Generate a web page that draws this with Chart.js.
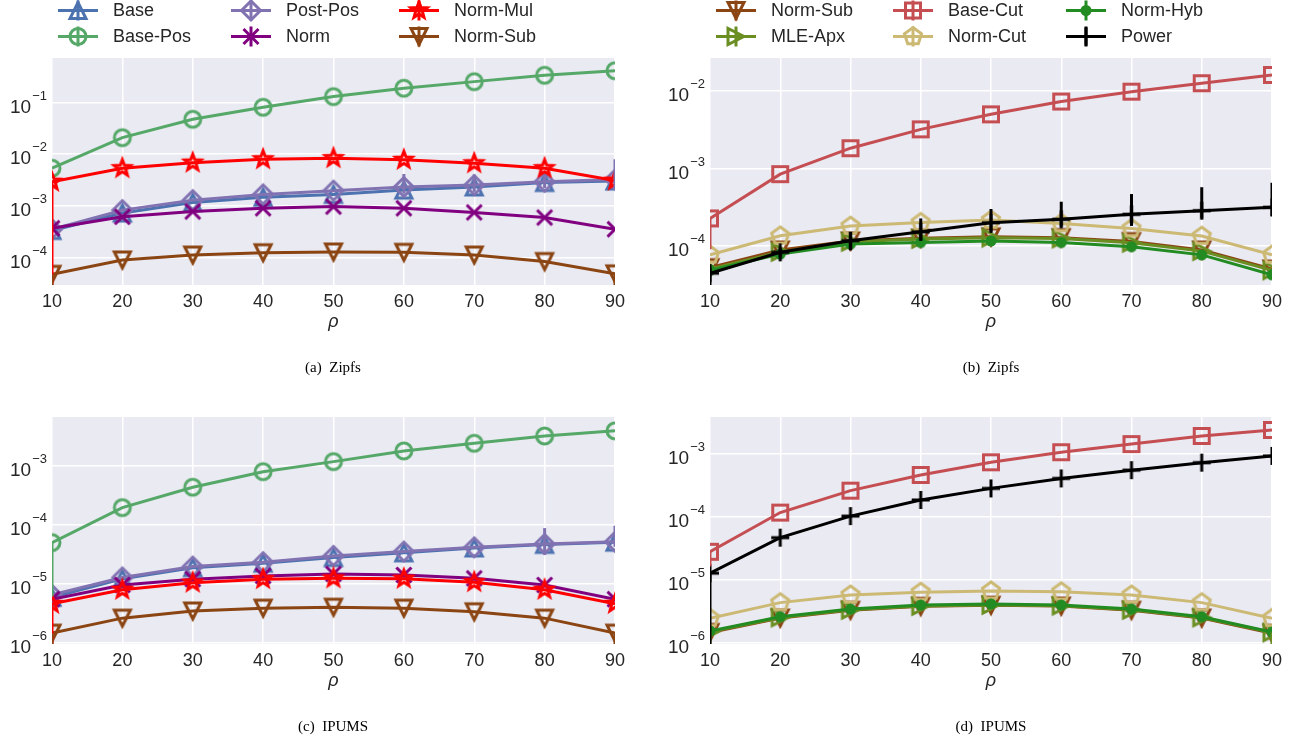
<!DOCTYPE html>
<html><head><meta charset="utf-8">
<script src="https://cdn.jsdelivr.net/npm/chart.js@4/dist/chart.umd.min.js"></script>
<style>
html,body{margin:0;padding:0;background:#fff}
body{width:1297px;height:744px;position:relative;overflow:hidden}
canvas{position:absolute}
.cap{position:absolute;font-family:"Liberation Serif","Times New Roman",serif;font-size:15px;color:#000;text-align:center;width:300px;white-space:pre;line-height:18px}
</style></head><body>
<canvas id="ca" width="648" height="345" style="left:0;top:0"></canvas>
<canvas id="cb" width="649" height="345" style="left:648px;top:0"></canvas>
<canvas id="cc" width="648" height="384" style="left:0;top:360px"></canvas>
<canvas id="cd" width="649" height="384" style="left:648px;top:360px"></canvas>
<div class="cap" style="left:183px;top:358px">(a)  Zipfs</div>
<div class="cap" style="left:841px;top:358px">(b)  Zipfs</div>
<div class="cap" style="left:183px;top:717px">(c)  IPUMS</div>
<div class="cap" style="left:841px;top:717px">(d)  IPUMS</div>
<script>
// ---------------- data ----------------
const rho = [10, 20, 30, 40, 50, 60, 70, 80, 90];
const xTicks = [10, 20, 30, 40, 50, 60, 70, 80, 90];

// (a) Zipfs
const aBase    = [3.3e-4, 7.2e-4, 1.15e-3, 1.45e-3, 1.65e-3, 2.0e-3, 2.3e-3, 2.8e-3, 3.0e-3];
const aBasePos = [5.3e-3, 2.07e-2, 4.69e-2, 8.0e-2, 0.129, 0.187, 0.251, 0.333, 0.408];
const aPostPos = [3.5e-4, 8.2e-4, 1.28e-3, 1.65e-3, 1.95e-3, 2.3e-3, 2.5e-3, 2.9e-3, 3.2e-3];
const aNorm    = [3.65e-4, 6.1e-4, 7.7e-4, 8.9e-4, 9.6e-4, 8.9e-4, 7.4e-4, 5.9e-4, 3.5e-4];
const aNormMul = [2.9e-3, 5.3e-3, 6.8e-3, 7.9e-3, 8.3e-3, 7.7e-3, 6.6e-3, 5.3e-3, 3.05e-3];
const aNormSub = [4.7e-5, 8.9e-5, 1.11e-4, 1.23e-4, 1.27e-4, 1.25e-4, 1.11e-4, 8.3e-5, 4.8e-5];
const aPostPosHi = [null, null, null, null, null, 4.1e-3, 4.0e-3, 3.9e-3, 7.9e-3];
const aPostPosLo = [null, null, null, null, null, 1.7e-3, 1.85e-3, 2.2e-3, 2.0e-3];
const aNormMulLo = [1e-9, null, null, null, null, null, null, null, null];
const aNormSubLo = [1e-9, null, null, null, null, null, null, null, 1e-9];
const aYRange = [2.92e-5, 0.719];
const aDecades = [-4, -3, -2, -1];

// (b) Zipfs
const bNormSub = [5.2e-5, 8.8e-5, 1.15e-4, 1.25e-4, 1.30e-4, 1.27e-4, 1.13e-4, 8.8e-5, 5.0e-5];
const bMleApx  = [5.0e-5, 8.3e-5, 1.12e-4, 1.22e-4, 1.27e-4, 1.24e-4, 1.09e-4, 8.5e-5, 4.8e-5];
const bBaseCut = [2.25e-4, 8.4e-4, 1.82e-3, 3.19e-3, 4.99e-3, 7.3e-3, 9.8e-3, 1.26e-2, 1.61e-2];
const bNormCut = [7.6e-5, 1.34e-4, 1.79e-4, 2.0e-4, 2.14e-4, 1.94e-4, 1.67e-4, 1.33e-4, 7.6e-5];
const bNormHyb = [4.8e-5, 7.8e-5, 1.05e-4, 1.10e-4, 1.15e-4, 1.10e-4, 9.7e-5, 7.6e-5, 4.2e-5];
const bPower   = [4.4e-5, 8.2e-5, 1.16e-4, 1.51e-4, 1.98e-4, 2.19e-4, 2.54e-4, 2.83e-4, 3.13e-4];
const bPowerHi = [5.2e-5, 9.5e-5, 1.5e-4, 2.25e-4, 2.98e-4, 3.7e-4, 4.65e-4, 5.7e-4, 6.5e-4];
const bPowerLo = [1e-9, 7.0e-5, 8.7e-5, 1.17e-4, 1.46e-4, 1.76e-4, 1.8e-4, 2.25e-4, 2.4e-4];
const bBaseCutLo = [9e-5, null, null, null, null, null, null, null, null];
const bYRange = [3.1e-5, 2.67e-2];
const bDecades = [-4, -3, -2];

// (c) IPUMS
const cBase    = [5.8e-6, 1.2e-5, 1.85e-5, 2.2e-5, 2.75e-5, 3.3e-5, 4.0e-5, 4.6e-5, 5.0e-5];
const cBasePos = [4.93e-5, 1.94e-4, 4.3e-4, 7.9e-4, 1.17e-3, 1.78e-3, 2.4e-3, 3.19e-3, 3.9e-3];
const cPostPos = [6.4e-6, 1.26e-5, 1.93e-5, 2.29e-5, 2.93e-5, 3.47e-5, 4.1e-5, 4.67e-5, 5.1e-5];
const cNorm    = [5.4e-6, 9.4e-6, 1.18e-5, 1.34e-5, 1.45e-5, 1.39e-5, 1.22e-5, 9.4e-6, 5.4e-6];
const cNormMul = [4.5e-6, 7.8e-6, 1.03e-5, 1.18e-5, 1.22e-5, 1.2e-5, 1.05e-5, 7.8e-6, 4.5e-6];
const cNormSub = [1.43e-6, 2.57e-6, 3.4e-6, 3.8e-6, 3.94e-6, 3.8e-6, 3.3e-6, 2.57e-6, 1.43e-6];
const cBasePosLo = [6e-6, null, null, null, null, null, null, null, null];
const cPostPosHi = [null, null, null, null, null, null, null, 8.7e-5, 9.5e-5];
const cPostPosLo = [null, null, null, null, null, null, null, 3.05e-5, 4.2e-5];
const cNormMulLo = [1e-9, null, null, null, null, null, null, null, null];
const cNormSubLo = [1e-9, null, null, null, null, null, null, null, 1e-9];
const cYRange = [9.35e-7, 6.7e-3];
const cDecades = [-6, -5, -4, -3];

// (d) IPUMS
const dNormSub = [1.45e-6, 2.45e-6, 3.25e-6, 3.75e-6, 3.9e-6, 3.8e-6, 3.25e-6, 2.45e-6, 1.4e-6];
const dMleApx  = [1.48e-6, 2.5e-6, 3.3e-6, 3.8e-6, 3.95e-6, 3.85e-6, 3.3e-6, 2.5e-6, 1.45e-6];
const dBaseCut = [2.75e-5, 1.15e-4, 2.56e-4, 4.53e-4, 7.2e-4, 1.04e-3, 1.4e-3, 1.88e-3, 2.34e-3];
const dNormCut = [2.43e-6, 4.3e-6, 5.7e-6, 6.3e-6, 6.6e-6, 6.4e-6, 5.7e-6, 4.3e-6, 2.43e-6];
const dNormHyb = [1.53e-6, 2.57e-6, 3.4e-6, 3.94e-6, 4.1e-6, 3.94e-6, 3.4e-6, 2.57e-6, 1.47e-6];
const dPower   = [1.26e-5, 4.6e-5, 1.01e-4, 1.82e-4, 2.78e-4, 4.0e-4, 5.4e-4, 7.1e-4, 9.1e-4];
const dPowerLo = [1e-9, null, null, null, null, null, null, null, null];
const dBaseCutLo = [1.6e-5, null, null, null, null, null, null, null, null];
const dMleApxLo = [1e-9, null, null, null, null, null, null, null, 1e-9];
const dYRange = [9.5e-7, 3.76e-3];
const dDecades = [-6, -5, -4, -3];

// ---------------- styling ----------------
const FONT = '"Liberation Sans", Arial, Helvetica, sans-serif';
const TXT = '#262626';
const LW = 3;
const C = {
  base: '#4C72B0', basePos: '#55A868', postPos: '#8172B2', norm: '#800080',
  normMul: '#FF0000', normSub: '#8B4513', baseCut: '#C44E52', normCut: '#CCB974',
  mleApx: '#6B8E23', normHyb: '#228B22', power: '#000000'
};

function markerPath(g, t, x, y) {
  g.beginPath();
  if (t === 'o') { g.arc(x, y, 8, 0, Math.PI * 2); }
  else if (t === '.') { g.arc(x, y, 5.5, 0, Math.PI * 2); }
  else if (t === '^') { const r = 8; g.moveTo(x, y - r); g.lineTo(x + r, y + r); g.lineTo(x - r, y + r); g.closePath(); }
  else if (t === 'v') { const r = 8; g.moveTo(x, y + r); g.lineTo(x + r, y - r); g.lineTo(x - r, y - r); g.closePath(); }
  else if (t === '>') { const r = 8; g.moveTo(x + r, y); g.lineTo(x - r, y + r); g.lineTo(x - r, y - r); g.closePath(); }
  else if (t === 'D') { const r = 9.5; g.moveTo(x, y - r); g.lineTo(x + r, y); g.lineTo(x, y + r); g.lineTo(x - r, y); g.closePath(); }
  else if (t === 's') { const r = 7.5; g.rect(x - r, y - r, 2 * r, 2 * r); }
  else if (t === 'p') { const r = 9; for (let k = 0; k < 5; k++) { const a = -Math.PI / 2 + k * 2 * Math.PI / 5; const px = x + r * Math.cos(a), py = y + r * Math.sin(a); if (k === 0) g.moveTo(px, py); else g.lineTo(px, py); } g.closePath(); }
  else if (t === '*') { const ro = 8.5, ri = 3.6; for (let k = 0; k < 10; k++) { const a = -Math.PI / 2 + k * Math.PI / 5; const r = k % 2 ? ri : ro; const px = x + r * Math.cos(a), py = y + r * Math.sin(a); if (k === 0) g.moveTo(px, py); else g.lineTo(px, py); } g.closePath(); }
  else if (t === 'x') { const r = 7.5; g.moveTo(x - r, y - r); g.lineTo(x + r, y + r); g.moveTo(x - r, y + r); g.lineTo(x + r, y - r); }
  else if (t === '+') { const r = 9; g.moveTo(x - r, y); g.lineTo(x + r, y); g.moveTo(x, y - r); g.lineTo(x, y + r); }
}
function drawMarker(g, t, color, x, y) {
  g.save();
  g.lineWidth = 3; g.strokeStyle = color; g.fillStyle = color; g.lineJoin = 'miter'; g.lineCap = 'butt';
  markerPath(g, t, x, y);
  if (t === '.') g.fill(); else g.stroke();
  g.restore();
}
function markerImage(t, color) {
  const c = document.createElement('canvas'); c.width = 32; c.height = 32;
  drawMarker(c.getContext('2d'), t, color, 16, 16);
  return c;
}

const bgPlugin = {
  id: 'bg',
  beforeDraw(chart) {
    const { ctx, chartArea: a } = chart;
    ctx.save(); ctx.fillStyle = '#EAEAF2';
    ctx.fillRect(a.left, a.top, a.right - a.left, a.bottom - a.top);
    ctx.restore();
  }
};
const errPlugin = {
  id: 'err',
  afterDatasetsDraw(chart) {
    const { ctx, chartArea: a } = chart;
    const xs = chart.scales.x, ys = chart.scales.y;
    ctx.save();
    ctx.beginPath(); ctx.rect(a.left, a.top, a.right - a.left, a.bottom - a.top); ctx.clip();
    chart.data.datasets.forEach(ds => {
      if (!ds.errHi && !ds.errLo) return;
      ctx.strokeStyle = ds.borderColor; ctx.lineWidth = LW;
      ds.data.forEach((p, i) => {
        const hi = ds.errHi ? ds.errHi[i] : null;
        const lo = ds.errLo ? ds.errLo[i] : null;
        if (hi == null && lo == null) return;
        const x = xs.getPixelForValue(p.x);
        const y0 = ys.getPixelForValue(hi == null ? p.y : hi);
        let y1 = ys.getPixelForValue(lo == null ? p.y : lo);
        if (!isFinite(y1) || y1 > a.bottom + 10) y1 = a.bottom + 10;
        ctx.beginPath(); ctx.moveTo(x, y0); ctx.lineTo(x, y1); ctx.stroke();
      });
    });
    ctx.restore();
  }
};
const yLabelPlugin = {
  id: 'ylab',
  afterDraw(chart) {
    const s = chart.scales.y, ctx = chart.ctx;
    const right = chart.chartArea.left - 5;
    ctx.save(); ctx.fillStyle = TXT; ctx.textAlign = 'left'; ctx.textBaseline = 'alphabetic';
    s.ticks.forEach(t => {
      const e = Math.round(Math.log10(t.value));
      const y = s.getPixelForValue(t.value);
      const exp = (e < 0 ? '\u2212' : '') + Math.abs(e);
      ctx.font = '13px ' + FONT; const ew = ctx.measureText(exp).width;
      ctx.font = '19px ' + FONT; const bw = ctx.measureText('10').width;
      ctx.fillText('10', right - ew - bw - 1, y + 10.5);
      ctx.font = '13px ' + FONT; ctx.fillText(exp, right - ew, y - 2.5);
    });
    ctx.restore();
  }
};
function legendPlugin(items, cols, rows) {
  return {
    id: 'mleg',
    afterDraw(chart) {
      const ctx = chart.ctx;
      ctx.save();
      items.forEach(it => {
        const x0 = cols[it.col], y = rows[it.row];
        ctx.strokeStyle = it.color; ctx.lineWidth = LW;
        ctx.beginPath(); ctx.moveTo(x0, y); ctx.lineTo(x0 + 40, y); ctx.stroke();
        ctx.beginPath(); ctx.moveTo(x0 + 20, y - 10); ctx.lineTo(x0 + 20, y + 10); ctx.stroke();
        drawMarker(ctx, it.marker, it.color, x0 + 20, y);
        ctx.fillStyle = TXT; ctx.font = '18px ' + FONT; ctx.textBaseline = 'middle'; ctx.textAlign = 'left';
        ctx.fillText(it.label, x0 + 55, y + 1);
      });
      ctx.restore();
    }
  };
}

function makePanel(id, series, yRange, decades, geom, legend) {
  const datasets = series.map((s, idx) => ({
    label: s.label,
    data: rho.map((x, i) => ({ x: x, y: s.values[i] })),
    borderColor: s.color, backgroundColor: s.color,
    borderWidth: LW, tension: 0, fill: false,
    pointStyle: markerImage(s.marker, s.color), pointRadius: 8,
    order: -idx, errHi: s.errHi || null, errLo: s.errLo || null
  }));
  const plugins = [bgPlugin, errPlugin, yLabelPlugin];
  if (legend) plugins.push(legendPlugin(legend.items, legend.cols, legend.rows));
  new Chart(document.getElementById(id), {
    type: 'line',
    data: { datasets },
    options: {
      responsive: false, animation: false, devicePixelRatio: 1, events: [],
      layout: { padding: { left: 0, right: geom.pr, top: geom.pt, bottom: geom.pb } },
      plugins: { legend: { display: false }, tooltip: { enabled: false } },
      scales: {
        x: {
          type: 'linear', min: rho[0], max: rho[rho.length - 1],
          afterBuildTicks: sc => { sc.ticks = xTicks.map(v => ({ value: v })); },
          ticks: { font: { family: FONT, size: 18 }, color: TXT, padding: 6, maxRotation: 0, autoSkip: false },
          grid: { color: '#FFFFFF', lineWidth: 1.5, drawTicks: false },
          border: { display: false },
          title: { display: true, text: 'ρ', font: { family: FONT, size: 18, style: 'italic' }, color: TXT, padding: 0 },
          afterFit: sc => { sc.height = 48; }
        },
        y: {
          type: 'logarithmic', min: yRange[0], max: yRange[1],
          afterBuildTicks: sc => { sc.ticks = decades.map(e => ({ value: Math.pow(10, e) })); },
          ticks: { display: false },
          grid: { color: '#FFFFFF', lineWidth: 1.5, drawTicks: false },
          border: { display: false },
          afterFit: sc => { sc.width = geom.yw; }
        }
      }
    },
    plugins
  });
}

const legendA = {
  cols: [58, 231, 399], rows: [10.5, 36.5],
  items: [
    { label: 'Base', color: C.base, marker: '^', col: 0, row: 0 },
    { label: 'Base-Pos', color: C.basePos, marker: 'o', col: 0, row: 1 },
    { label: 'Post-Pos', color: C.postPos, marker: 'D', col: 1, row: 0 },
    { label: 'Norm', color: C.norm, marker: 'x', col: 1, row: 1 },
    { label: 'Norm-Mul', color: C.normMul, marker: '*', col: 2, row: 0 },
    { label: 'Norm-Sub', color: C.normSub, marker: 'v', col: 2, row: 1 }
  ]
};
const legendB = {
  cols: [68, 245, 418], rows: [10.5, 36.5],
  items: [
    { label: 'Norm-Sub', color: C.normSub, marker: 'v', col: 0, row: 0 },
    { label: 'MLE-Apx', color: C.mleApx, marker: '>', col: 0, row: 1 },
    { label: 'Base-Cut', color: C.baseCut, marker: 's', col: 1, row: 0 },
    { label: 'Norm-Cut', color: C.normCut, marker: 'p', col: 1, row: 1 },
    { label: 'Norm-Hyb', color: C.normHyb, marker: '.', col: 2, row: 0 },
    { label: 'Power', color: C.power, marker: '+', col: 2, row: 1 }
  ]
};

makePanel('ca', [
  { label: 'Base', values: aBase, color: C.base, marker: '^' },
  { label: 'Base-Pos', values: aBasePos, color: C.basePos, marker: 'o' },
  { label: 'Post-Pos', values: aPostPos, color: C.postPos, marker: 'D', errHi: aPostPosHi, errLo: aPostPosLo },
  { label: 'Norm', values: aNorm, color: C.norm, marker: 'x' },
  { label: 'Norm-Mul', values: aNormMul, color: C.normMul, marker: '*', errLo: aNormMulLo },
  { label: 'Norm-Sub', values: aNormSub, color: C.normSub, marker: 'v', errLo: aNormSubLo }
], aYRange, aDecades, { yw: 52, pr: 33, pt: 58, pb: 12 }, legendA);

makePanel('cb', [
  { label: 'Norm-Sub', values: bNormSub, color: C.normSub, marker: 'v' },
  { label: 'MLE-Apx', values: bMleApx, color: C.mleApx, marker: '>' },
  { label: 'Base-Cut', values: bBaseCut, color: C.baseCut, marker: 's', errLo: bBaseCutLo },
  { label: 'Norm-Cut', values: bNormCut, color: C.normCut, marker: 'p' },
  { label: 'Norm-Hyb', values: bNormHyb, color: C.normHyb, marker: '.' },
  { label: 'Power', values: bPower, color: C.power, marker: '+', errHi: bPowerHi, errLo: bPowerLo }
], bYRange, bDecades, { yw: 62, pr: 25, pt: 58, pb: 12 }, legendB);

makePanel('cc', [
  { label: 'Base', values: cBase, color: C.base, marker: '^' },
  { label: 'Base-Pos', values: cBasePos, color: C.basePos, marker: 'o', errLo: cBasePosLo },
  { label: 'Post-Pos', values: cPostPos, color: C.postPos, marker: 'D', errHi: cPostPosHi, errLo: cPostPosLo },
  { label: 'Norm', values: cNorm, color: C.norm, marker: 'x' },
  { label: 'Norm-Mul', values: cNormMul, color: C.normMul, marker: '*', errLo: cNormMulLo },
  { label: 'Norm-Sub', values: cNormSub, color: C.normSub, marker: 'v', errLo: cNormSubLo }
], cYRange, cDecades, { yw: 52, pr: 33, pt: 57, pb: 52 }, null);

makePanel('cd', [
  { label: 'Norm-Sub', values: dNormSub, color: C.normSub, marker: 'v' },
  { label: 'MLE-Apx', values: dMleApx, color: C.mleApx, marker: '>', errLo: dMleApxLo },
  { label: 'Base-Cut', values: dBaseCut, color: C.baseCut, marker: 's', errLo: dBaseCutLo },
  { label: 'Norm-Cut', values: dNormCut, color: C.normCut, marker: 'p' },
  { label: 'Norm-Hyb', values: dNormHyb, color: C.normHyb, marker: '.' },
  { label: 'Power', values: dPower, color: C.power, marker: '+', errLo: dPowerLo }
], dYRange, dDecades, { yw: 62, pr: 25, pt: 57, pb: 52 }, null);
</script>
</body></html>
